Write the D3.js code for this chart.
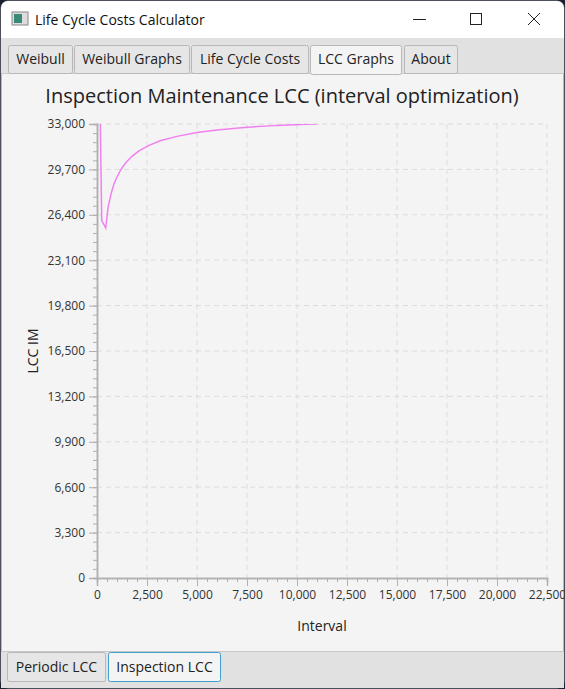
<!DOCTYPE html>
<html><head><meta charset="utf-8">
<script src="https://cdn.jsdelivr.net/npm/d3@7/dist/d3.min.js"></script>
<style>body{margin:0;background:#1c2230;}svg{display:block;font-family:"Segoe UI","Open Sans",sans-serif;}</style>
</head><body><svg id="c" width="565" height="689"></svg>
<script>
const intervals=[100,235,435,550,700,850,1000,1200,1450,1750,2100,2600,3200,4000,5000,6000,7500,9000,10500,11000];
const lccValues=[40000,26000,25440,26900,27900,28650,29150,29700,30200,30650,31050,31450,31800,32100,32380,32560,32760,32900,32980,33000];
const xTicks=[0,2500,5000,7500,10000,12500,15000,17500,20000,22500];
const yTicks=[0,3300,6600,9900,13200,16500,19800,23100,26400,29700,33000];
const topTabs=["Weibull","Weibull Graphs","Life Cycle Costs","LCC Graphs","About"];
const bottomTabs=["Periodic LCC","Inspection LCC"];

const svg=d3.select("#c");
svg.append("rect").attr("x",1).attr("y",1).attr("width",563).attr("height",687).attr("rx",7).attr("fill","#f4f4f4").attr("stroke","#7a7f88");
svg.append("path").attr("d","M1,38 V8 a7,7 0 0 1 7,-7 H557 a7,7 0 0 1 7,7 V38 Z").attr("fill","#fff");
svg.append("rect").attr("x",12).attr("y",12).attr("width",16).attr("height",13).attr("fill","#ddd").attr("stroke","#888");
svg.append("rect").attr("x",14).attr("y",14).attr("width",8).attr("height",9).attr("fill","#3a8a7a");
svg.append("text").attr("x",35).attr("y",25).attr("font-size",14).attr("fill","#111").text("Life Cycle Costs Calculator");
svg.append("line").attr("x1",413).attr("x2",426).attr("y1",19.5).attr("y2",19.5).attr("stroke","#222");
svg.append("rect").attr("x",470.5).attr("y",13.5).attr("width",11).attr("height",11).attr("fill","none").attr("stroke","#222");
svg.append("path").attr("d","M528,13 L540,25 M540,13 L528,25").attr("stroke","#222");
svg.append("rect").attr("x",1).attr("y",38).attr("width",563).attr("height",36).attr("fill","#e1e1e1");
svg.append("line").attr("x1",1).attr("x2",564).attr("y1",73.5).attr("y2",73.5).attr("stroke","#c8c8c8");
const tx0=[8,74,191,310,404],tw=[65,116,118,92,54];
topTabs.forEach((t,i)=>{
  const sel=i===3;
  svg.append("rect").attr("x",tx0[i]+0.5).attr("y",45.5).attr("width",tw[i]-1).attr("height",sel?29:28).attr("rx",2)
    .attr("fill",sel?"#f4f4f4":"#e6e6e6").attr("stroke","#b8b8b8");
  svg.append("text").attr("x",tx0[i]+tw[i]/2).attr("y",64).attr("text-anchor","middle").attr("font-size",14).attr("fill","#222").text(t);
});
svg.append("rect").attr("x",1).attr("y",651).attr("width",563).attr("height",37).attr("fill","#e1e1e1");
svg.append("line").attr("x1",1).attr("x2",564).attr("y1",651.5).attr("y2",651.5).attr("stroke","#c8c8c8");
const bx0=[7,108],bw=[99,113];
bottomTabs.forEach((t,i)=>{
  const sel=i===1;
  svg.append("rect").attr("x",bx0[i]+0.5).attr("y",652.5).attr("width",bw[i]-1).attr("height",29).attr("rx",2)
    .attr("fill",sel?"#f4f4f4":"#e6e6e6").attr("stroke",sel?"#3fa0d0":"#b8b8b8");
  svg.append("text").attr("x",bx0[i]+bw[i]/2).attr("y",672).attr("text-anchor","middle").attr("font-size",14).attr("fill","#222").text(t);
});

const L=97,R=547,T=124,B=578;
const x=d3.scaleLinear().domain([0,22500]).range([L,R]);
const y=d3.scaleLinear().domain([0,33000]).range([B,T]);
svg.append("text").attr("x",282).attr("y",103).attr("text-anchor","middle").attr("font-size",20).attr("fill","#222").text("Inspection Maintenance LCC (interval optimization)");
const g=svg.append("g");
g.selectAll(".vg").data(xTicks.slice(1)).join("line").attr("x1",d=>x(d)).attr("x2",d=>x(d)).attr("y1",T).attr("y2",B)
  .attr("stroke","#dcdcdc").attr("stroke-dasharray","5,4");
g.selectAll(".hg").data(yTicks.slice(1)).join("line").attr("y1",d=>y(d)).attr("y2",d=>y(d)).attr("x1",L).attr("x2",R)
  .attr("stroke","#dcdcdc").attr("stroke-dasharray","5,4");
const fmt=d3.format(",");
const xa=svg.append("g").attr("transform",`translate(0,${B})`).call(d3.axisBottom(x).tickValues(xTicks).tickFormat(fmt).tickSize(8).tickPadding(4));
const xm=svg.append("g").attr("transform",`translate(0,${B})`).call(d3.axisBottom(x).tickValues(d3.range(0,22501,500)).tickFormat("").tickSize(4));
const ya=svg.append("g").attr("transform",`translate(${L},0)`).call(d3.axisLeft(y).tickValues(yTicks).tickFormat(fmt).tickSize(8).tickPadding(4));
const ym=svg.append("g").attr("transform",`translate(${L},0)`).call(d3.axisLeft(y).tickValues(d3.range(0,33001,660)).tickFormat("").tickSize(4));
[xa,xm,ya,ym].forEach(a=>{a.selectAll("path").attr("stroke","#b0b0b0").attr("stroke-width",1.5);a.selectAll("line").attr("stroke","#b0b0b0");a.selectAll("text").attr("font-size",12).attr("fill","#333").attr("font-family","Segoe UI, Open Sans, sans-serif");});
svg.append("defs").append("clipPath").attr("id","cp").append("rect").attr("x",L).attr("y",T).attr("width",R-L).attr("height",B-T);
svg.append("path").datum(intervals.map((d,i)=>[d,lccValues[i]])).attr("clip-path","url(#cp)")
  .attr("d",d3.line().x(d=>x(d[0])).y(d=>y(d[1])))
  .attr("fill","none").attr("stroke","#f080f0").attr("stroke-width",1.5);
svg.append("text").attr("x",322).attr("y",631).attr("text-anchor","middle").attr("font-size",14).attr("fill","#222").text("Interval");
svg.append("text").attr("transform","translate(38,351) rotate(-90)").attr("text-anchor","middle").attr("font-size",14).attr("fill","#222").text("LCC IM");
</script></body></html>
